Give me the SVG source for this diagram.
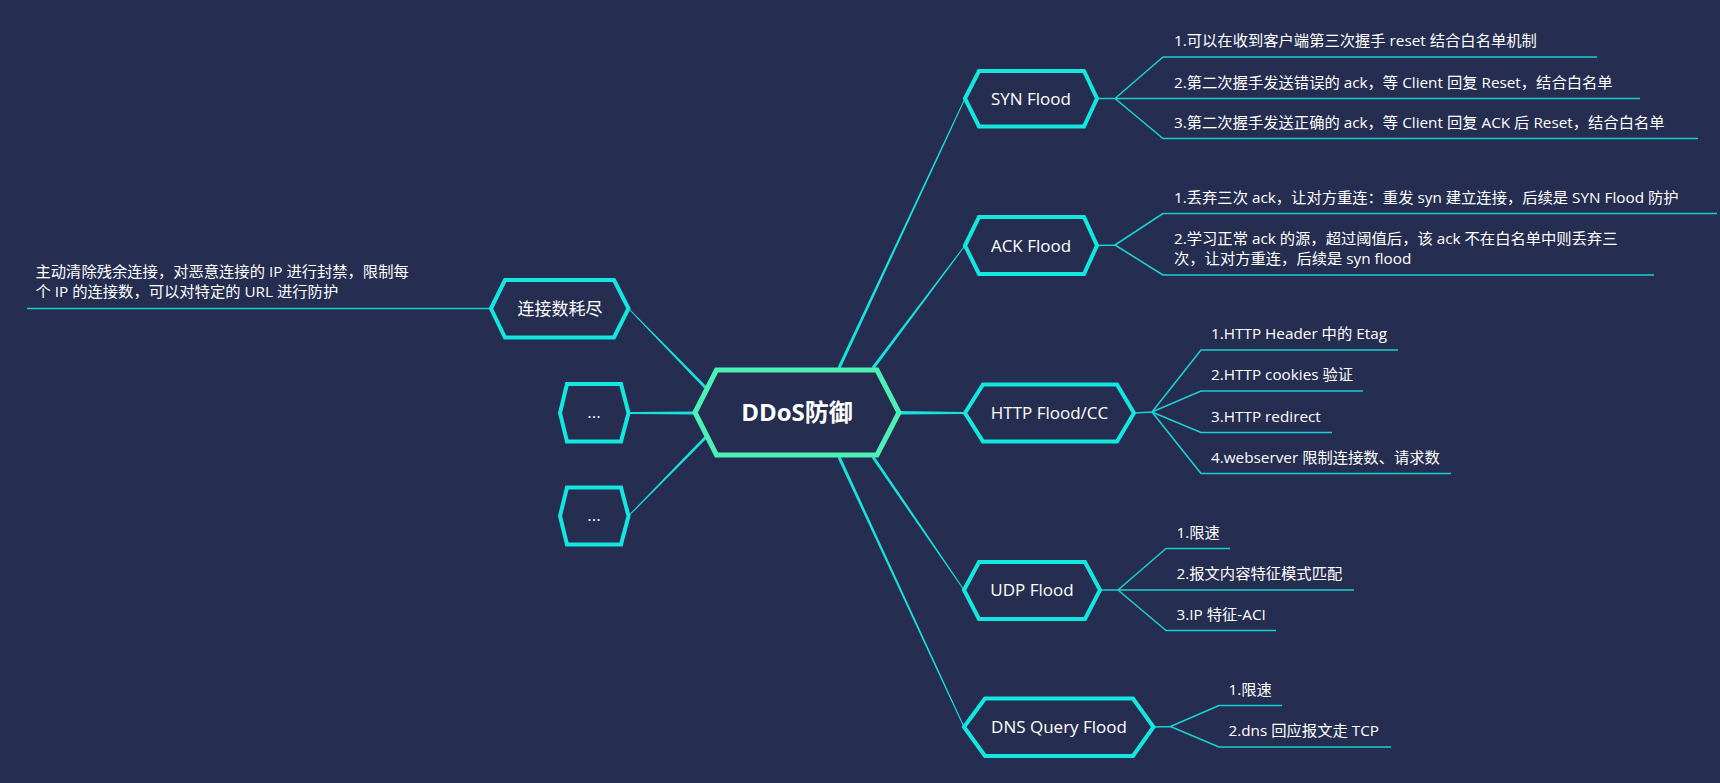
<svg xmlns="http://www.w3.org/2000/svg" width="1720" height="783" viewBox="0 0 1720 783">
<style>
text{font-family:"Open Sans","Noto Sans CJK SC",sans-serif;fill:#ffffff}
.root{fill:#252D50;stroke:#4DF0B5;stroke-width:5;stroke-linejoin:miter}
.hex{fill:#252D50;stroke:#13E7E0;stroke-width:4;stroke-linejoin:miter}
.lbl{font-size:17px;text-anchor:middle}
.rootlbl{font-size:24px;font-weight:bold;text-anchor:middle}
.item{font-size:15.3px}
.main{fill:#17E3DE}
.br{fill:none;stroke:#1CCFD0;stroke-width:1.6;stroke-linejoin:round}
</style>
<rect x="0" y="0" width="1720" height="783" fill="#252D50"/>
<g id="connectors">
  <polygon class="main" points="840.36,368.64 965.45,98.71 964.55,98.29 837.64,367.36"/>
  <polygon class="main" points="874.2,368.9 965.4,245.8 964.6,245.2 871.8,367.1"/>
  <polygon class="main" points="899,411 965,412 965,414 899,414.5"/>
  <polygon class="main" points="871.76,457.85 963.59,590.28 964.41,589.72 874.24,456.15"/>
  <polygon class="main" points="837.64,457.63 963.55,727.21 964.45,726.79 840.36,456.37"/>
  <polygon class="main" points="707.07,386.95 628.86,308.15 628.14,308.85 704.93,389.05"/>
  <polygon class="main" points="695,411.5 628.5,412 628.5,414 695,414.5"/>
  <polygon class="main" points="704.93,435.95 628.14,515.65 628.86,516.35 707.07,438.05"/>
  <path class="br" d="M1097,98.5 L1115,98.5 L1163,57 L1597,57 M1115,98.5 L1640,98.5 M1115,98.5 L1163,138.5 L1698,138.5"/>
  <path class="br" d="M1097,245.5 L1115,245 L1163,213.5 L1717,213.5 M1115,245 L1163,275 L1654,275"/>
  <path class="br" d="M1134,413 L1152,412 L1201,350 L1398,350 M1152,412 L1201,391 L1363,391 M1152,412 L1201,432.5 L1332,432.5 M1152,412 L1201,473.5 L1451,473.5"/>
  <path class="br" d="M1100,590 L1118,590 L1166,548.5 L1230,548.5 M1118,590 L1354,590 M1118,590 L1166,630.5 L1276,630.5"/>
  <path class="br" d="M1153.5,727 L1170.5,726.5 L1219,705.5 L1282,705.5 M1170.5,726.5 L1219,747 L1391,747"/>
  <path class="br" d="M491,308.5 L27,308.5"/>
</g>
<g id="root">
  <polygon class="root" points="695,412.5 716.5,370 877,370 899,412.5 877,455 716.5,455"/>
  <text class="rootlbl" x="797" y="420.5">DDoS防御</text>
</g>
<g id="syn">
  <polygon class="hex" points="965,98.5 979,71 1084,71 1097,98.5 1084,126.5 979,126.5"/>
  <text class="lbl" x="1031" y="104.5">SYN Flood</text>
  <text class="item" x="1174" y="46">1.可以在收到客户端第三次握手 reset 结合白名单机制</text>
  <text class="item" x="1174" y="87.5">2.第二次握手发送错误的 ack，等 Client 回复 Reset，结合白名单</text>
  <text class="item" x="1174" y="127.5">3.第二次握手发送正确的 ack，等 Client 回复 ACK 后 Reset，结合白名单</text>
</g>
<g id="ack">
  <polygon class="hex" points="965,245.5 979,217 1084,217 1097,245.5 1084,274 979,274"/>
  <text class="lbl" x="1031" y="251.5">ACK Flood</text>
  <text class="item" x="1174" y="202.5">1.丢弃三次 ack，让对方重连：重发 syn 建立连接，后续是 SYN Flood 防护</text>
  <text class="item" x="1174" y="243.5">2.学习正常 ack 的源，超过阈值后，该 ack 不在白名单中则丢弃三</text>
  <text class="item" x="1174" y="264">次，让对方重连，后续是 syn flood</text>
</g>
<g id="http">
  <polygon class="hex" points="965,413 983,384.5 1117,384.5 1134,413 1117,441.5 983,441.5"/>
  <text class="lbl" x="1049.5" y="419">HTTP Flood/CC</text>
  <text class="item" x="1211" y="339">1.HTTP Header 中的 Etag</text>
  <text class="item" x="1211" y="380">2.HTTP cookies 验证</text>
  <text class="item" x="1211" y="421.5">3.HTTP redirect</text>
  <text class="item" x="1211" y="462.5">4.webserver 限制连接数、请求数</text>
</g>
<g id="udp">
  <polygon class="hex" points="964,590 979,562 1085,562 1100,590 1085,619 979,619"/>
  <text class="lbl" x="1032" y="596">UDP Flood</text>
  <text class="item" x="1176.5" y="537.5">1.限速</text>
  <text class="item" x="1176.5" y="579">2.报文内容特征模式匹配</text>
  <text class="item" x="1176.5" y="619.5">3.IP 特征-ACI</text>
</g>
<g id="dns">
  <polygon class="hex" points="964,727 985,698.5 1133,698.5 1153.5,727 1133,756 985,756"/>
  <text class="lbl" x="1059" y="733">DNS Query Flood</text>
  <text class="item" x="1228.5" y="694.5">1.限速</text>
  <text class="item" x="1228.5" y="736">2.dns 回应报文走 TCP</text>
</g>
<g id="conn">
  <polygon class="hex" points="491,308.5 505,280 614,280 628.5,308.5 614,337.5 505,337.5"/>
  <text class="lbl" x="560" y="314.5">连接数耗尽</text>
  <text class="item" x="35.5" y="277">主动清除残余连接，对恶意连接的 IP 进行封禁，限制每</text>
  <text class="item" x="35.5" y="297">个 IP 的连接数，可以对特定的 URL 进行防护</text>
</g>
<g id="more1">
  <polygon class="hex" points="560,413 567,384 621,384 628.5,413 621,441.5 567,441.5"/>
  <text class="lbl" x="594" y="418">...</text>
</g>
<g id="more2">
  <polygon class="hex" points="560,516 567,487.5 621,487.5 628.5,516 621,544.5 567,544.5"/>
  <text class="lbl" x="594" y="521">...</text>
</g>
</svg>
